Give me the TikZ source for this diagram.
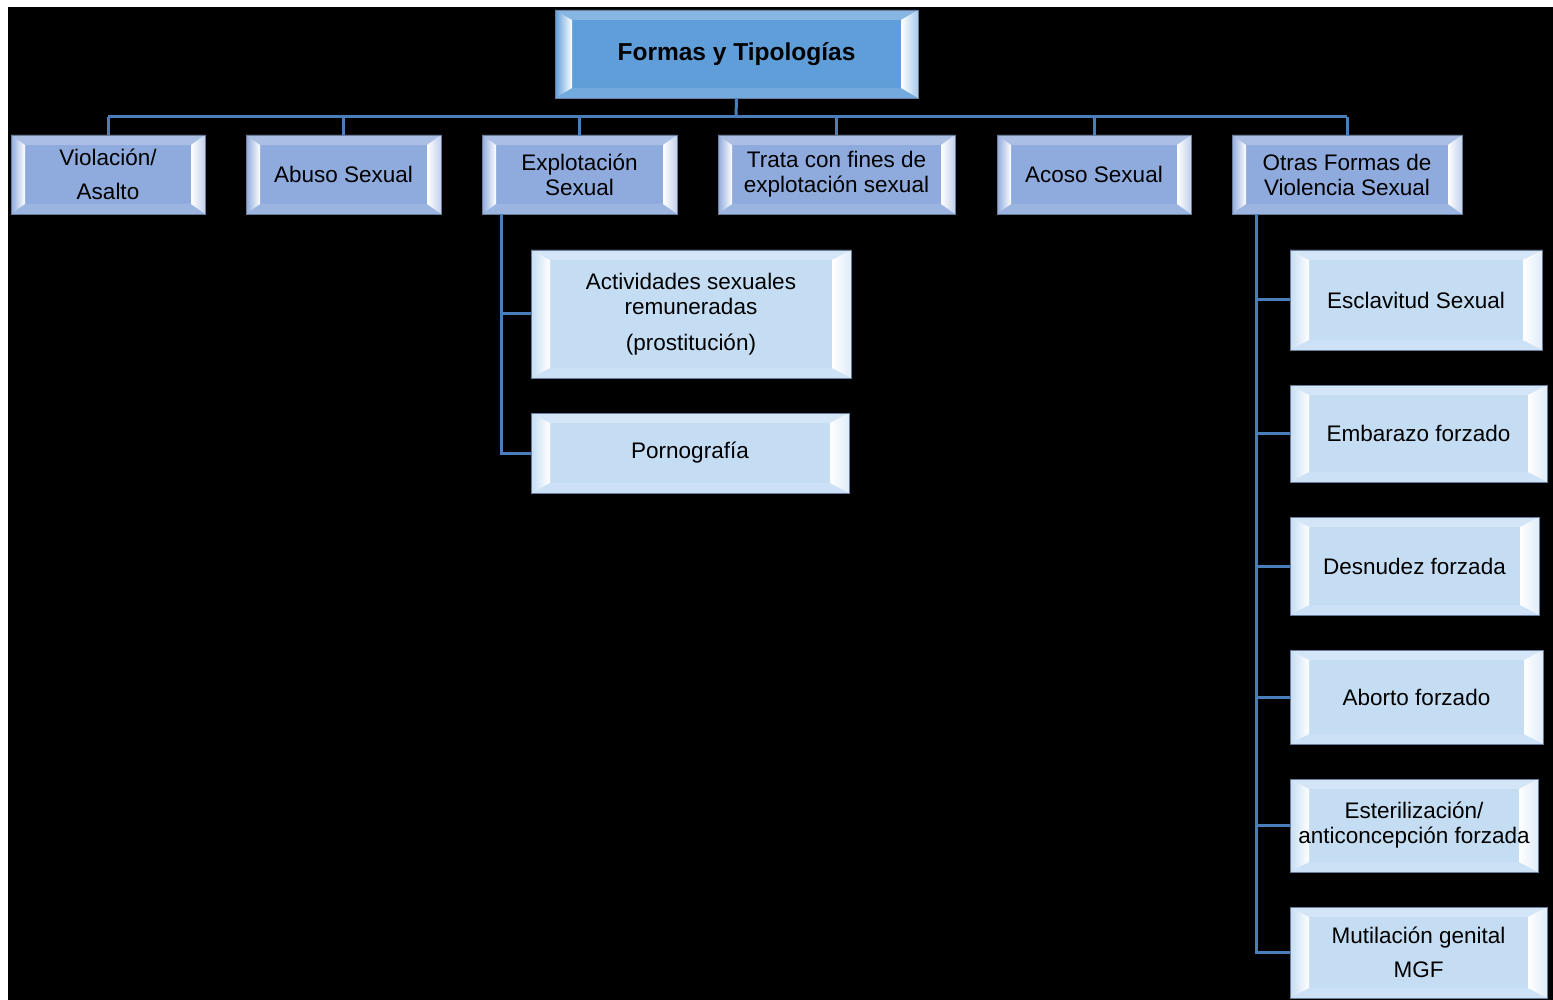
\documentclass[tikz,border=0pt]{standalone}
\usepackage{fontspec}
\setmainfont{Liberation Sans}
\usetikzlibrary{calc}
\definecolor{topc}{RGB}{95,158,216}
\definecolor{lonec}{RGB}{143,170,220}
\definecolor{ltwoc}{RGB}{197,221,243}
\definecolor{edgec}{RGB}{105,125,155}
\definecolor{connc}{RGB}{74,126,187}
\newcommand{\mainsz}{\fontsize{22.5}{25}\selectfont}
\newcommand{\titlesz}{\fontsize{24.5}{27}\selectfont\bfseries}
\tikzset{
  bevel/.style n args={3}{fill=#1, draw=edgec, line width=0.8pt, inner sep=0pt, outer sep=0pt,
    align=center, font=\mainsz, text=black,
    path picture={
      \coordinate (pA) at (path picture bounding box.north west);
      \coordinate (pB) at (path picture bounding box.north east);
      \coordinate (pC) at (path picture bounding box.south east);
      \coordinate (pD) at (path picture bounding box.south west);
      \coordinate (qA) at ($(pA)+(#2,-#3)$);
      \coordinate (qB) at ($(pB)+(-#2,-#3)$);
      \coordinate (qC) at ($(pC)+(-#2,#3)$);
      \coordinate (qD) at ($(pD)+(#2,#3)$);
      \fill[#1!75!white] (pA) -- (pB) -- (qB) -- (qA) -- cycle;
      \fill[#1!88!white] (pD) -- (pC) -- (qC) -- (qD) -- cycle;
      \shade[left color=#1, right color=white] (pA) -- (qA) -- (qD) -- (pD) -- cycle;
      \shade[left color=white, right color=#1!55!white] (qB) -- (pB) -- (pC) -- (qC) -- cycle;
    }},
  topbox/.style={bevel={topc}{17pt}{10pt}, font=\titlesz},
  onebox/.style={bevel={lonec}{14pt}{10pt}},
  twobox/.style={bevel={ltwoc}{19pt}{10pt}},
  conn/.style={draw=connc, line width=3pt}
}
\begin{document}
\begin{tikzpicture}[x=1pt, y=-1pt]
\useasboundingbox (0,0) rectangle (1553,1000);
\fill[white] (0,0) rectangle (1553,1000);
\fill[black] (8,7) rectangle (1553,1000);

\coordinate (bus) at (736,117);

% top
\node[topbox, minimum width=363pt, minimum height=88pt] (top) at (736.5,54) {Formas y Tipologías};

% level 1
\node[onebox, minimum width=194pt, minimum height=79pt] (viol) at (108,174.5) {Violación/\\[9pt]Asalto};
\node[onebox, minimum width=195pt, minimum height=79pt] (abuso) at (343.5,174.5) {Abuso Sexual};
\node[onebox, minimum width=195pt, minimum height=79pt] (expl) at (579.5,174.5) {Explotación\\Sexual};
\node[onebox, minimum width=237pt, minimum height=79pt] (trata) at (836.5,174.5) {Trata con fines de\\explotación sexual};
\node[onebox, minimum width=194pt, minimum height=79pt] (acoso) at (1094,174.5) {Acoso Sexual};
\node[onebox, minimum width=230pt, minimum height=79pt] (otras) at (1347,174.5) {Otras Formas de\\Violencia Sexual};

% level 2 under Explotacion
\node[twobox, minimum width=320pt, minimum height=128pt] (act) at (691,314) {Actividades sexuales\\remuneradas\\[11pt](prostitución)};
\node[twobox, minimum width=318pt, minimum height=80pt] (porn) at (690,453) {Pornografía};

% level 2 under Otras
\node[twobox, minimum width=252pt, minimum height=100pt] (escl) at (1416,300) {Esclavitud Sexual};
\node[twobox, minimum width=257pt, minimum height=97pt] (emb) at (1418.5,433.5) {Embarazo forzado};
\node[twobox, minimum width=249pt, minimum height=98pt] (desn) at (1414.5,566) {Desnudez forzada};
\node[twobox, minimum width=253pt, minimum height=94pt] (abor) at (1416.5,697) {Aborto forzado};
\node[twobox, minimum width=248pt, minimum height=93pt] (este) at (1414,825.5) {Esterilización/\\anticoncepción forzada};
\node[twobox, minimum width=257pt, minimum height=91pt] (mgf) at (1418.5,952.5) {Mutilación genital\\[9pt]MGF};

% connectors
\draw[conn] (top.south) -- (bus);
\draw[conn] (viol.north |- bus) -- (otras.north |- bus);
\foreach \n in {viol,abuso,expl,trata,acoso,otras}
  \draw[conn] (\n.north) -- (\n.north |- bus);

\draw[conn] (expl.south west) ++(19,0) coordinate (ev) |- (porn.west);
\draw[conn] (act.west) -- (act.west -| ev);

\draw[conn] (otras.south west) ++(24,0) coordinate (ov) |- (mgf.west);
\foreach \n in {escl,emb,desn,abor,este}
  \draw[conn] (\n.west) -- (\n.west -| ov);
\end{tikzpicture}
\end{document}
